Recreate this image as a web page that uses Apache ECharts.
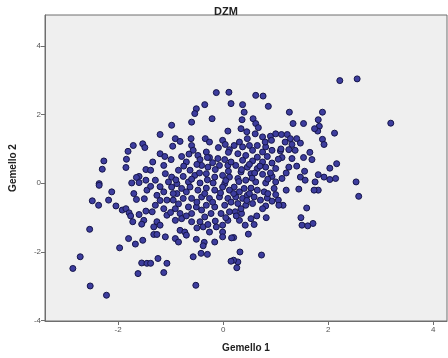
<!DOCTYPE html>
<html><head><meta charset="utf-8">
<script src="https://cdn.jsdelivr.net/npm/echarts@6/dist/echarts.min.js"></script>
<style>html,body{margin:0;padding:0;background:#fff}#c{width:448px;height:358px}</style>
</head><body><div id="c"></div>
<script>
const chartTitle = "DZM";
const xName = "Gemello 1";
const yName = "Gemello 2";
const xTicks = [-2, 0, 2, 4];
const yTicks = [-4, -2, 0, 2, 4];
const gemello1 = [2.22,2.55,3.19,1.89,1.81,1.83,1.80,2.12,1.89,1.92,2.16,2.03,1.81,1.92,2.03,2.14,2.53,1.81,2.58,
1.44,1.59,1.48,1.50,1.61,1.71,1.73,0.82,0.64,0.53,0.59,0.42,0.31,0.48,0.20,0.32,0.73,0.28,0.26,0.20,0.35,0.23,
0.21,0.31,0.40,0.53,0.65,0.78,0.97,1.00,0.24,0.37,0.46,0.59,0.71,0.84,0.93,1.05,1.14,1.06,0.81,0.75,0.43,0.28,0.56,0.34,
-2.27,-2.30,-1.81,-1.71,-1.53,-1.49,-1.84,-1.85,-1.47,-1.60,-1.65,-2.36,-1.74,-1.60,-1.47,
-2.12,-2.49,-2.37,-2.18,-2.04,-1.92,-1.85,-1.79,-1.76,-1.72,-1.65,-1.60,-1.47,-1.51,-1.55,-1.45,-2.36,-2.54,-1.80,-1.67,-1.53,-1.97,-2.72,-2.86,-1.55,-1.45,-1.62,-2.53,-2.22,
-0.13,0.11,-0.35,-0.51,-0.54,-0.21,-0.60,0.15,-0.98,0.09,-1.20,-0.91,-0.82,-0.96,-0.61,-0.60,-0.57,-0.34,-0.26,-0.32,-0.01,0.04,-0.09,0.12,-1.20,-1.11,-0.99,-0.79,-0.48,-0.44,-0.26,-0.10,0.03,-1.34,-0.70,-1.13,-0.41,-0.29,-0.07,0.09,-0.85,-0.63,-1.38,-1.10,-0.98,-0.76,-0.54,-0.32,-0.16,-0.01,0.12,-1.04,-0.88,-0.66,-0.44,-0.19,0.03,-1.29,
0.62,0.76,0.86,0.37,0.40,1.26,1.33,1.53,1.74,0.36,0.57,0.62,0.67,0.34,0.61,0.75,0.90,1.00,1.11,1.22,0.92,1.28,1.40,1.47,1.31,1.18,0.46,0.31,0.21,0.37,0.50,0.65,0.81,0.56,0.75,0.93,1.09,1.25,1.37,0.28,0.43,0.65,0.84,1.12,1.53,1.69,1.31,0.37,0.56,0.75,0.93,0.24,0.46,0.65,0.81,1.00,1.25,0.34,0.53,0.75,0.93,1.12,1.47,1.56,0.28,0.43,0.62,0.81,1.00,1.75,
-1.38,-1.26,-1.13,-0.98,-0.88,-0.79,-0.63,-0.48,-0.32,-0.16,-0.01,0.12,-1.07,-0.95,-0.76,-0.60,-0.41,-0.26,-0.07,0.09,-1.29,-1.13,-0.91,-0.66,-0.51,-0.32,-0.16,0.03,-1.35,-1.07,-0.82,-0.60,-0.41,-0.23,-0.04,0.12,-1.26,-1.20,-1.32,-0.91,-0.79,-0.60,-0.44,-0.38,-0.29,-0.13,-0.01,0.09,-0.82,-0.73,-0.26,-0.01,-1.32,-1.26,-1.10,-0.91,-0.70,-0.85,-0.51,-0.16,-0.01,0.16,-0.36,-0.38,-0.42,-0.30,-0.57,-1.24,-1.07,-1.38,-1.13,-0.52,0.15,
-0.75,-0.50,-0.20,0.15,0.50,0.70,-0.90,-0.60,-0.30,0.05,0.30,0.55,0.85,1.20,1.40,1.05,-1.20,-0.95,-0.70,-0.35,-0.05,0.20,0.50,0.85,1.20,-1.20,-0.85,-0.50,-0.20,0.15,0.45,-1.00,-0.70,-0.35,0.05,0.25,-0.50,-0.15,0.35,0.60,0.10,-0.15,-0.45,0.90,1.10,0.80,0.45,0.10,-0.30,-0.65,1.55,1.65,-1.50,-1.70];
const gemello2 = [2.99,3.04,1.75,2.07,1.85,1.66,1.52,1.46,1.28,1.13,0.57,0.44,0.25,0.18,0.11,0.14,0.04,-0.20,-0.38,
-0.17,-0.72,-1.00,-1.22,-1.24,-1.17,-0.20,-1.00,-0.95,-1.03,-1.20,-1.22,-1.08,-1.48,-1.58,-2.00,-2.09,-2.29,-2.46,-2.24,-0.88,-0.83,
-0.11,-0.25,-0.15,-0.14,-0.20,-0.25,-0.15,-0.33,-0.40,-0.44,-0.35,-0.40,-0.49,-0.43,-0.52,-0.49,-0.64,-0.64,-0.66,-0.74,-0.64,-0.59,-0.59,-0.74,
0.65,0.41,0.93,1.10,1.15,1.04,0.70,0.46,0.40,0.20,0.17,-0.01,0.01,0.02,0.09,
-0.25,-0.51,-0.64,-0.49,-0.66,-0.78,-0.74,-0.86,-0.95,-1.12,-0.47,-0.91,-0.81,-1.08,-1.19,-0.20,-0.06,-1.34,-1.61,-1.77,-1.66,-1.88,-2.14,-2.48,-2.32,-2.33,-2.63,-2.99,-3.26,
2.64,2.65,2.29,2.17,2.03,1.88,1.78,2.32,1.69,1.52,1.42,1.30,1.22,1.08,1.30,1.10,0.96,1.30,1.20,0.91,1.25,1.13,1.04,0.98,0.86,0.78,0.69,0.78,0.81,0.69,0.75,0.72,0.69,0.62,0.62,0.52,0.52,0.47,0.52,0.52,0.38,0.38,0.38,0.28,0.18,0.20,0.23,0.28,0.18,0.23,0.18,0.04,-0.01,0.04,0.01,0.01,-0.01,0.09,
2.56,2.54,2.24,2.29,2.07,2.07,1.74,1.74,1.59,1.85,1.88,1.74,1.62,1.59,1.44,1.35,1.37,1.44,1.42,1.42,1.25,1.30,1.30,1.17,1.13,1.20,1.30,1.20,1.10,1.06,1.10,1.10,1.06,0.96,0.91,0.96,0.94,0.98,0.96,0.86,0.81,0.76,0.78,0.75,0.75,0.69,0.72,0.67,0.65,0.62,0.59,0.52,0.47,0.43,0.47,0.43,0.47,0.33,0.28,0.26,0.20,0.14,0.18,0.09,0.14,0.09,0.04,0.01,0.04,0.04,
-0.09,-0.35,-0.25,-0.11,-0.30,-0.15,-0.11,-0.20,-0.14,-0.20,-0.11,-0.20,-0.49,-0.49,-0.44,-0.44,-0.40,-0.44,-0.40,-0.44,-0.64,-0.74,-0.74,-0.69,-0.69,-0.64,-0.69,-0.64,-0.83,-0.93,-0.88,-0.88,-0.78,-0.88,-0.88,-0.83,-1.12,-1.22,-1.27,-1.08,-1.03,-1.12,-1.12,-1.27,-1.20,-1.27,-1.22,-1.08,-1.37,-1.42,-1.42,-1.42,-1.49,-1.49,-1.56,-1.61,-1.51,-1.71,-1.63,-1.71,-1.56,-1.59,-1.72,-1.82,-2.04,-2.07,-2.14,-2.19,-2.33,-2.33,-2.60,-2.97,-2.27,
0.50,0.55,0.60,0.62,0.55,0.50,0.10,0.12,0.10,0.08,0.05,0.15,0.12,0.30,0.50,0.70,-0.10,-0.30,-0.25,-0.30,-0.28,-0.30,-0.30,-0.30,-0.20,-0.50,-0.60,-0.55,-0.55,-0.55,-0.50,-0.85,-0.95,-0.98,-1.00,-0.95,-1.30,-1.10,0.40,0.30,0.35,0.40,0.30,0.30,1.00,1.20,1.50,0.90,0.75,0.85,0.35,0.90,-0.45,-0.30];
const points = gemello1.map((v, i) => [v, gemello2[i]]);

const chart = echarts.init(document.getElementById('c'), null, {renderer: 'canvas'});
const font = '"Liberation Sans", Arial, sans-serif';
chart.setOption({
  animation: false,
  backgroundColor: '#ffffff',
  title: {text: chartTitle, left: 221, top: 1, textAlign: 'center',
    textStyle: {fontFamily: font, fontSize: 11, fontWeight: 'bold', color: '#222'}},
  grid: {left: 40, top: 15, right: 1, bottom: 37, show: true, backgroundColor: '#efefef', borderColor: '#6e6e6e', borderWidth: 1},
  xAxis: {
    type: 'value', min: -3.39, max: 4.26,
    name: xName, nameLocation: 'middle', nameGap: 22,
    nameTextStyle: {fontFamily: font, fontSize: 10, fontWeight: 'bold', color: '#222'},
    axisLine: {show: true, onZero: false, lineStyle: {color: '#6e6e6e'}},
    axisTick: {show: true, length: 4, customValues: xTicks, lineStyle: {color: '#6e6e6e'}},
    axisLabel: {customValues: xTicks, fontFamily: font, fontSize: 8, color: '#555', margin: 5},
    splitLine: {show: false}
  },
  yAxis: {
    type: 'value', min: -4.01, max: 4.9,
    name: yName, nameLocation: 'middle', nameGap: 27,
    nameTextStyle: {fontFamily: font, fontSize: 10, fontWeight: 'bold', color: '#222'},
    axisLine: {show: true, onZero: false, lineStyle: {color: '#6e6e6e'}},
    axisTick: {show: true, length: 4, customValues: yTicks, lineStyle: {color: '#6e6e6e'}},
    axisLabel: {customValues: yTicks, fontFamily: font, fontSize: 8, color: '#555', margin: 4},
    splitLine: {show: false}
  },
  series: [{
    type: 'scatter', data: points, symbolSize: 6,
    itemStyle: {color: '#3d3d9e', borderColor: '#15154a', borderWidth: 1, opacity: 1}
  }]
});
</script></body></html>
